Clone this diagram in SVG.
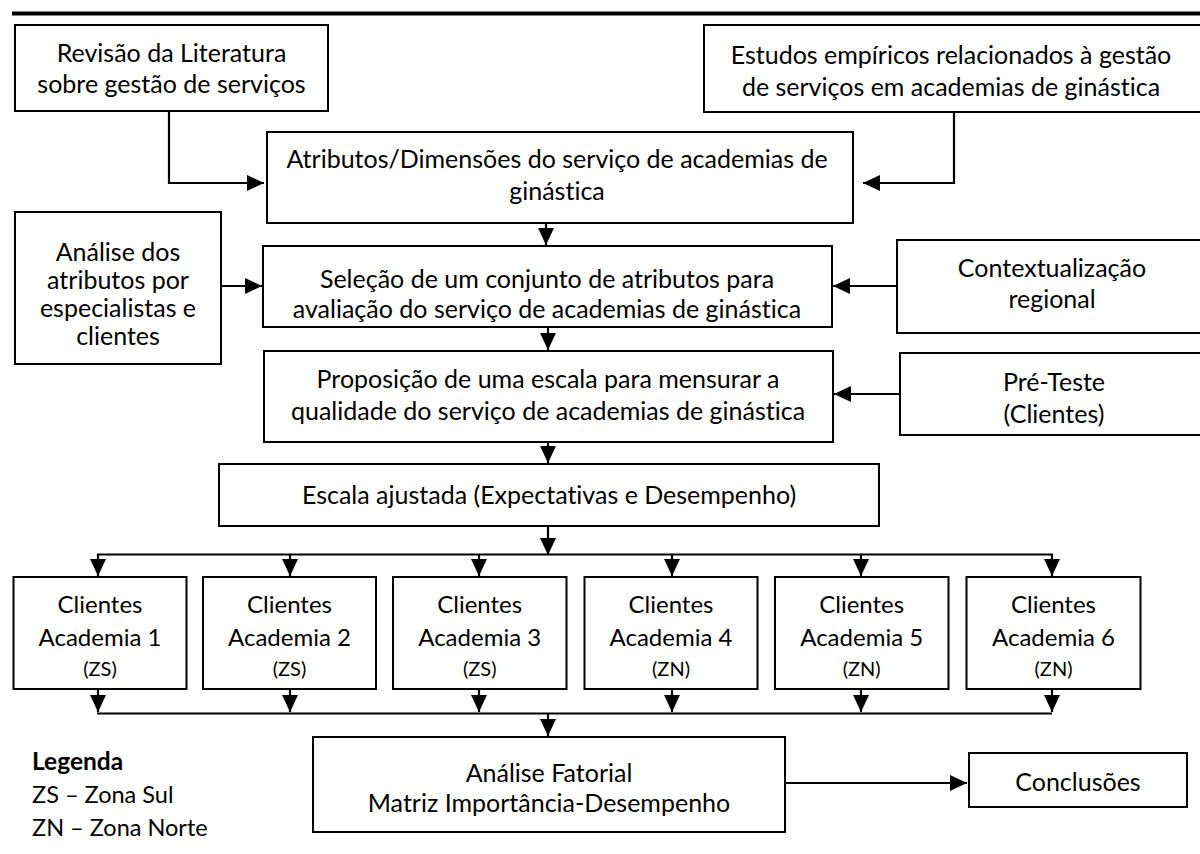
<svg xmlns="http://www.w3.org/2000/svg" width="1200" height="854" viewBox="0 0 1200 854">
<defs>
<style>
rect.b{fill:#fff;stroke:#000;stroke-width:2}
text{font-family:Lato,"Liberation Sans",sans-serif;font-size:25px;fill:#000;text-anchor:middle;font-variant-ligatures:none;font-feature-settings:"liga" 0}
text.m{font-size:24px}
text.s{font-size:20px}
text.l{text-anchor:start;font-size:23.5px}
text.bold{font-weight:bold;font-size:24.5px}
.c{fill:none;stroke:#000;stroke-width:2.2}
</style>
<marker id="ah" markerUnits="userSpaceOnUse" markerWidth="17" markerHeight="16" refX="17" refY="8" orient="auto">
<path d="M0,0 L17,8 L0,16 Z" fill="#000"/>
</marker>
</defs>
<rect x="0" y="0" width="1200" height="854" fill="#fff"/>
<line x1="12" y1="13.5" x2="1200" y2="13.5" stroke="#000" stroke-width="4"/>

<g id="n-revisao"><rect class="b" x="15" y="25" width="313" height="86"/><text x="171.5" y="62">Revisão da Literatura</text><text x="171.5" y="93">sobre gestão de serviços</text></g>
<g id="n-estudos"><rect class="b" x="704" y="25" width="510" height="87"/><text x="951" y="64">Estudos empíricos relacionados à gestão</text><text x="951" y="96">de serviços em academias de ginástica</text></g>
<g id="n-atributos"><rect class="b" x="267" y="132" width="586" height="91"/><text x="557" y="168">Atributos/Dimensões do serviço de academias de</text><text x="557" y="200">ginástica</text></g>
<g id="n-analise"><rect class="b" x="15" y="212" width="206" height="152"/><text x="118" y="261">Análise dos</text><text x="118" y="289">atributos por</text><text x="118" y="317">especialistas e</text><text x="118" y="345">clientes</text></g>
<g id="n-selecao"><rect class="b" x="263" y="246" width="569" height="81"/><text x="547" y="288">Seleção de um conjunto de atributos para</text><text x="547" y="318">avaliação do serviço de academias de ginástica</text></g>
<g id="n-context"><rect class="b" x="897" y="240" width="320" height="93"/><text x="1052" y="277">Contextualização</text><text x="1052" y="308">regional</text></g>
<g id="n-proposicao"><rect class="b" x="264" y="351" width="569" height="91"/><text x="548" y="388">Proposição de uma escala para mensurar a</text><text x="548" y="420">qualidade do serviço de academias de ginástica</text></g>
<g id="n-preteste"><rect class="b" x="900" y="353" width="320" height="82"/><text x="1054" y="391">Pré-Teste</text><text x="1054" y="423">(Clientes)</text></g>
<g id="n-escala"><rect class="b" x="219" y="464" width="660" height="62"/><text x="549" y="504">Escala ajustada (Expectativas e Desempenho)</text></g>

<g id="n-ac1"><rect class="b" x="13.5" y="577" width="173" height="112"/><text class="m" x="100" y="613">Clientes</text><text class="m" x="100" y="646">Academia 1</text><text class="s" x="100" y="676">(ZS)</text></g>
<g id="n-ac2"><rect class="b" x="203" y="577" width="173" height="112"/><text class="m" x="289.5" y="613">Clientes</text><text class="m" x="289.5" y="646">Academia 2</text><text class="s" x="289.5" y="676">(ZS)</text></g>
<g id="n-ac3"><rect class="b" x="393" y="577" width="173.5" height="112"/><text class="m" x="479.7" y="613">Clientes</text><text class="m" x="479.7" y="646">Academia 3</text><text class="s" x="479.7" y="676">(ZS)</text></g>
<g id="n-ac4"><rect class="b" x="584.5" y="577" width="173" height="112"/><text class="m" x="671" y="613">Clientes</text><text class="m" x="671" y="646">Academia 4</text><text class="s" x="671" y="676">(ZN)</text></g>
<g id="n-ac5"><rect class="b" x="775" y="577" width="173.5" height="112"/><text class="m" x="861.7" y="613">Clientes</text><text class="m" x="861.7" y="646">Academia 5</text><text class="s" x="861.7" y="676">(ZN)</text></g>
<g id="n-ac6"><rect class="b" x="966.5" y="577" width="174" height="112"/><text class="m" x="1053.5" y="613">Clientes</text><text class="m" x="1053.5" y="646">Academia 6</text><text class="s" x="1053.5" y="676">(ZN)</text></g>

<g id="n-fatorial"><rect class="b" x="313" y="737" width="472" height="95"/><text x="549" y="782">Análise Fatorial</text><text x="549" y="812">Matriz Importância-Desempenho</text></g>
<g id="n-conclusoes"><rect class="b" x="969" y="753" width="218" height="54"/><text x="1078" y="791">Conclusões</text></g>

<g id="legend"><text class="l bold" x="32" y="770">Legenda</text><text class="l" x="32" y="803">ZS – Zona Sul</text><text class="l" x="32" y="836">ZN – Zona Norte</text></g>

<g id="connectors">
<polyline class="c" points="169,111 169,183 264,183" marker-end="url(#ah)"/>
<polyline class="c" points="954,112 954,183 863,183" marker-end="url(#ah)"/>
<line class="c" x1="546" y1="223" x2="546" y2="245" marker-end="url(#ah)"/>
<line class="c" x1="221" y1="286" x2="262" y2="286" marker-end="url(#ah)"/>
<line class="c" x1="897" y1="286" x2="833" y2="286" marker-end="url(#ah)"/>
<line class="c" x1="548" y1="327" x2="548" y2="350" marker-end="url(#ah)"/>
<line class="c" x1="900" y1="394" x2="834" y2="394" marker-end="url(#ah)"/>
<line class="c" x1="548" y1="442" x2="548" y2="463" marker-end="url(#ah)"/>
<line class="c" x1="548" y1="526" x2="548" y2="555" marker-end="url(#ah)"/>
<line class="c" x1="97" y1="554.5" x2="1053" y2="554.5"/>
<line class="c" x1="98" y1="554" x2="98" y2="576" marker-end="url(#ah)"/>
<line class="c" x1="290" y1="554" x2="290" y2="576" marker-end="url(#ah)"/>
<line class="c" x1="479" y1="554" x2="479" y2="576" marker-end="url(#ah)"/>
<line class="c" x1="672" y1="554" x2="672" y2="576" marker-end="url(#ah)"/>
<line class="c" x1="861" y1="554" x2="861" y2="576" marker-end="url(#ah)"/>
<line class="c" x1="1052" y1="554" x2="1052" y2="576" marker-end="url(#ah)"/>
<line class="c" x1="98" y1="689" x2="98" y2="712" marker-end="url(#ah)"/>
<line class="c" x1="290" y1="689" x2="290" y2="712" marker-end="url(#ah)"/>
<line class="c" x1="479" y1="689" x2="479" y2="712" marker-end="url(#ah)"/>
<line class="c" x1="672" y1="689" x2="672" y2="712" marker-end="url(#ah)"/>
<line class="c" x1="861" y1="689" x2="861" y2="712" marker-end="url(#ah)"/>
<line class="c" x1="1052" y1="689" x2="1052" y2="712" marker-end="url(#ah)"/>
<line class="c" x1="97" y1="713.5" x2="1052" y2="713.5"/>
<line class="c" x1="548" y1="713" x2="548" y2="736" marker-end="url(#ah)"/>
<line class="c" x1="785" y1="783" x2="967" y2="783" marker-end="url(#ah)"/>
</g>
</svg>
